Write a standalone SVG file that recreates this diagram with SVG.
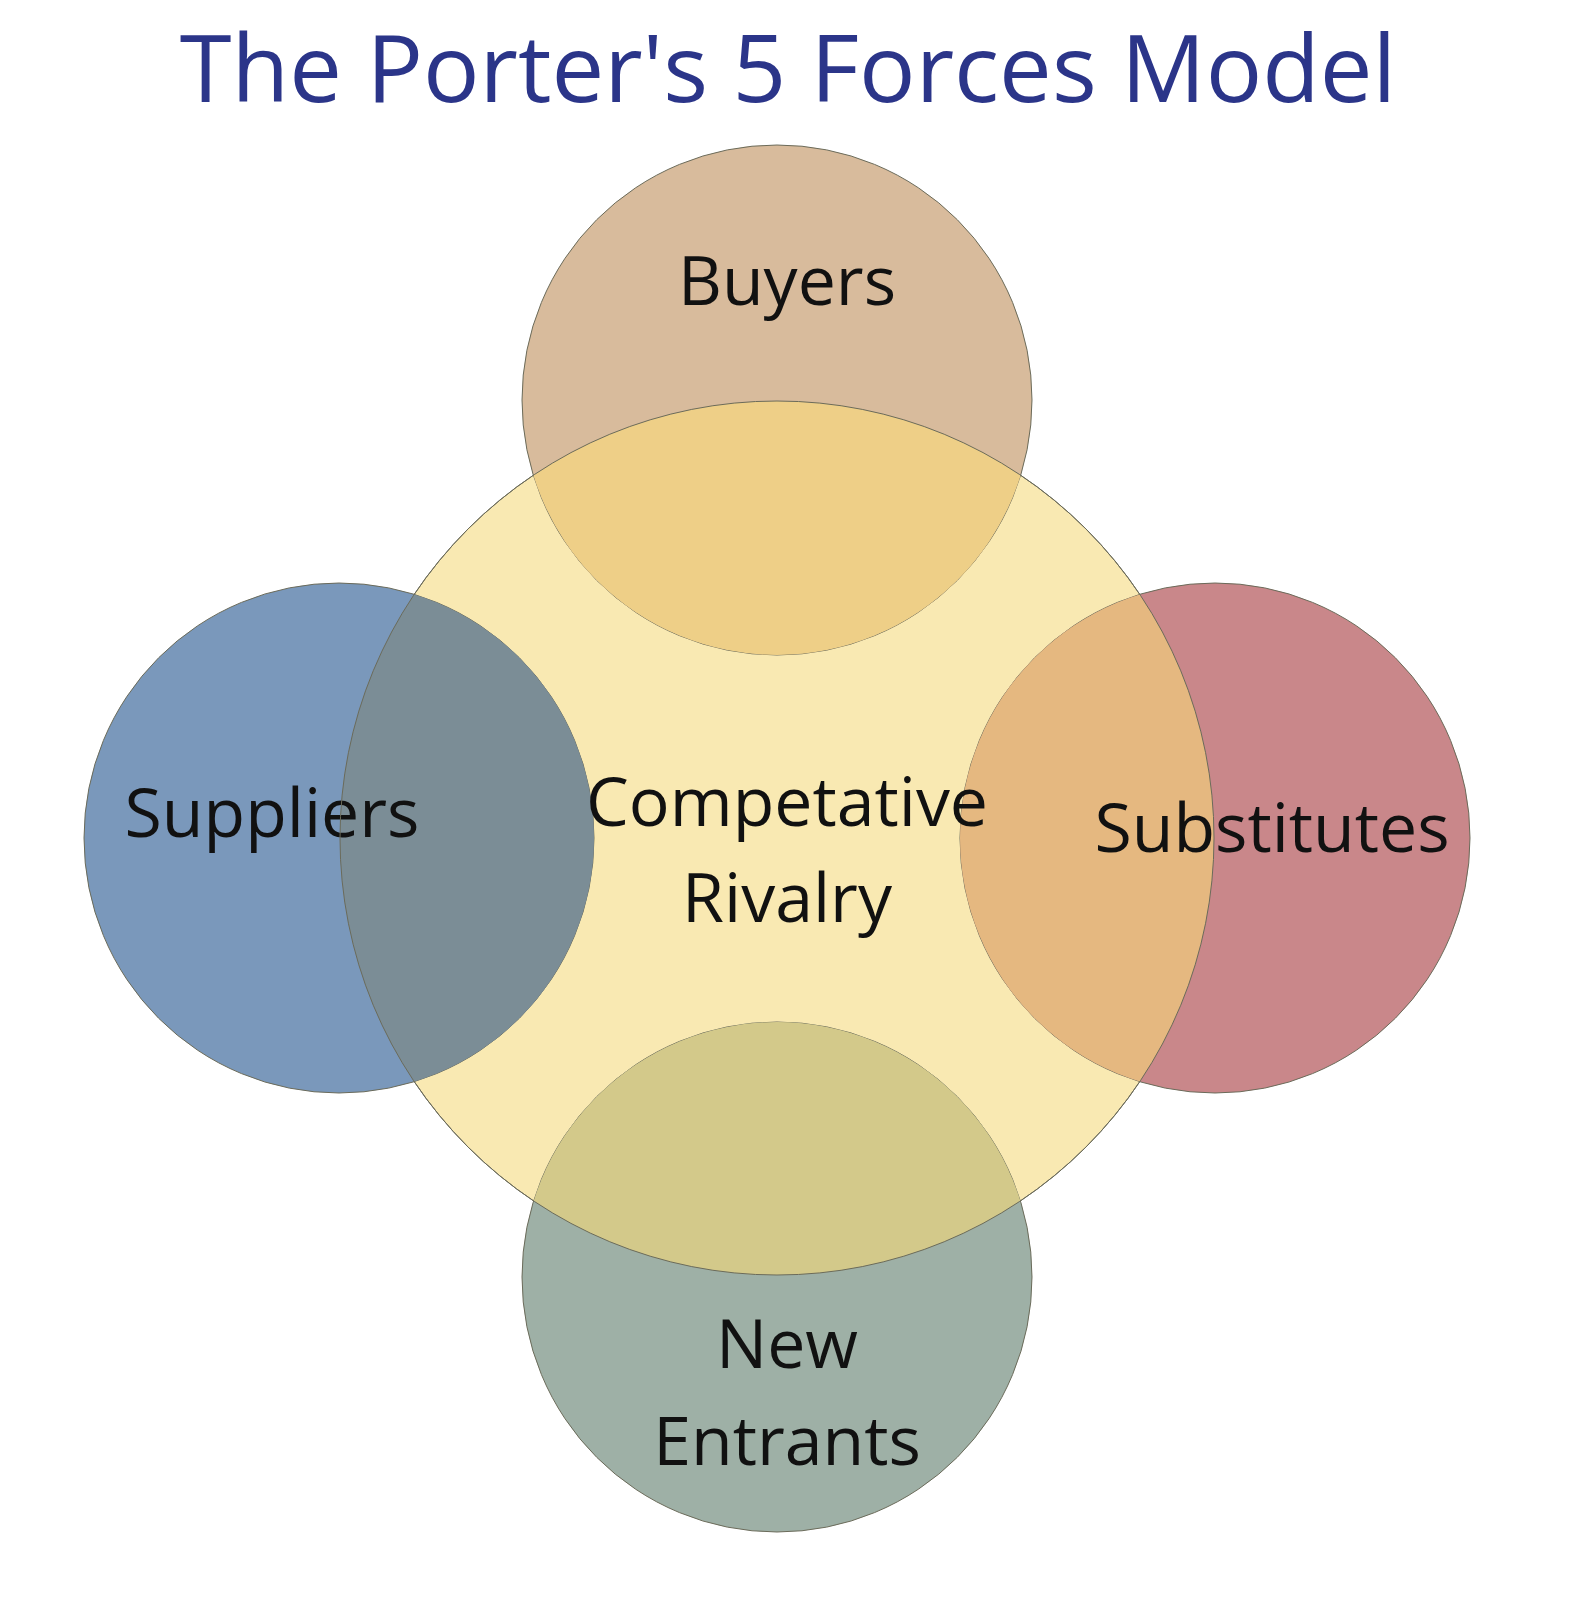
<svg xmlns="http://www.w3.org/2000/svg" width="1587" height="1600" viewBox="0 0 1587 1600">
<style>
.c{stroke:#6b6b5a;stroke-width:1}
.t{font-family:"Open Sans","Liberation Sans",sans-serif;font-size:68px;fill:#111;text-anchor:middle}
</style>
<defs><clipPath id="cc"><circle cx="777" cy="838" r="437"/></clipPath></defs>
<rect width="1587" height="1600" fill="#fff"/>
<text x="788" y="102" style="font-family:'Open Sans','Liberation Sans',sans-serif;font-size:94px;fill:#2b3589;text-anchor:middle">The Porter's 5 Forces Model</text>
<g id="rivalry"><circle cx="777" cy="838" r="437" fill="#f9e9b2" class="c"/></g>
<g id="buyers"><circle cx="777" cy="400" r="255" fill="#d8bb9c" class="c"/><circle cx="777" cy="400" r="255" fill="#eecf87" clip-path="url(#cc)"/><text class="t" x="787" y="305">Buyers</text></g>
<g id="suppliers"><circle cx="339" cy="838" r="255" fill="#7a98bb" class="c"/><circle cx="339" cy="838" r="255" fill="#7b8d96" clip-path="url(#cc)"/><text class="t" x="272" y="837">Suppliers</text></g>
<g id="substitutes"><circle cx="1215" cy="838" r="255" fill="#c9878a" class="c"/><circle cx="1215" cy="838" r="255" fill="#e5b880" clip-path="url(#cc)"/><text class="t" x="1272" y="852">Substitutes</text></g>
<g id="entrants"><circle cx="777" cy="1277" r="255" fill="#9eb0a6" class="c"/><circle cx="777" cy="1277" r="255" fill="#d3c98a" clip-path="url(#cc)"/><text class="t" x="787" y="1368">New</text><text class="t" x="787" y="1465">Entrants</text></g>
<circle cx="777" cy="838" r="437" fill="none" class="c"/>
<g id="rivalry-label"><text class="t" x="787" y="826">Competative</text><text class="t" x="787" y="922">Rivalry</text></g>
<g id="connectors"/>
</svg>
